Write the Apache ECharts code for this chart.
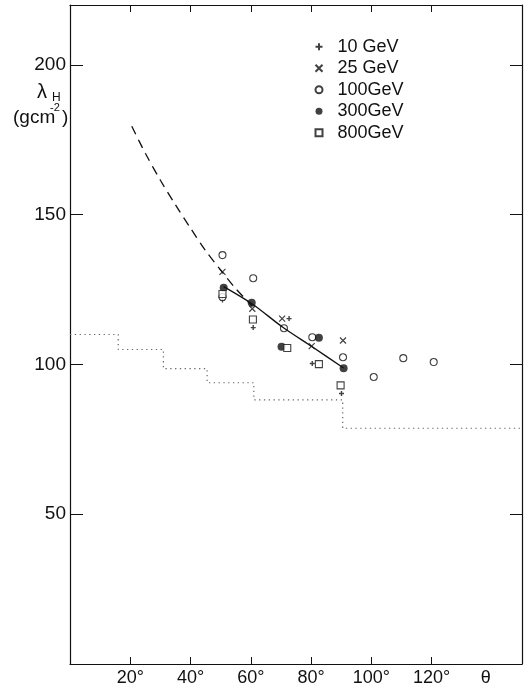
<!DOCTYPE html>
<html><head><meta charset="utf-8">
<script src="https://cdn.jsdelivr.net/npm/echarts@6/dist/echarts.min.js"></script>
<style>html,body{margin:0;padding:0;background:#fff}#c{width:529px;height:689px}</style>
</head><body><div id="c"></div>
<script>
// ---- data ----
const theta10 = [50.6, 60.8, 72.7, 80.4, 90.1];
const lam10   = [121.5, 112.3, 115.3, 100.3, 90.3];
const theta25 = [50.6, 60.5, 70.4, 80.2, 90.6];
const lam25   = [130.9, 118.6, 115.3, 106.1, 108.0];
const theta100 = [50.6, 50.6, 60.8, 71.0, 80.4, 90.6, 100.8, 110.6, 120.7];
const lam100   = [136.5, 122.5, 128.8, 112.1, 109.1, 102.4, 95.8, 102.1, 100.8];
const theta300 = [51.0, 60.3, 70.2, 82.6, 90.8];
const lam300   = [125.6, 120.6, 105.9, 108.9, 98.7];
const theta800 = [50.6, 60.7, 72.1, 82.6, 89.8];
const lam800   = [123.5, 115.0, 105.5, 100.1, 93.0];
// solid fit line
const fitTheta = [51, 60.5, 70.5, 80.5, 90.8];
const fitLam   = [126.0, 120.2, 112.5, 105.8, 98.8];
// dashed extrapolation
const dashTheta = [20.5, 25, 30, 35, 40, 45, 50, 55, 60.5];
const dashLam   = [179.5, 170.5, 161.5, 153.3, 145.5, 138.0, 131.5, 125.3, 119.5];
// dotted step curve: segments [theta_from, theta_to] at lambda
const stepStart = [0, 16, 31, 45.5, 61, 90.5];
const stepEnd   = [16, 31, 45.5, 61, 90.5, 150];
const stepLam   = [110.0, 105.0, 98.6, 93.9, 88.2, 78.7];
// axes
const xTicks = [20, 40, 60, 80, 100, 120];
const yTicks = [50, 100, 150, 200];
const seriesNames = ['10 GeV', '25 GeV', '100GeV', '300GeV', '800GeV'];

const zip = (a, b) => a.map((v, i) => [v, b[i]]);
const stepData = [];
stepStart.forEach((s, i) => { stepData.push([s, stepLam[i]]); stepData.push([stepEnd[i], stepLam[i]]); });

const FONT = 'Liberation Sans';
const INK = '#111';
const plusPath = 'path://M5,0 L5,10 M0,5 L10,5';
const crossPath = 'path://M0,0 L10,10 M10,0 L0,10';

const chart = echarts.init(document.getElementById('c'));
chart.setOption({
  animation: false,
  backgroundColor: '#fff',
  grid: { left: 70, right: 7, top: 5, bottom: 25 },
  xAxis: [{
    type: 'value', min: 0, max: 150, position: 'bottom',
    axisLine: { onZero: false, lineStyle: { color: INK, width: 1.2 } },
    axisTick: { inside: true, length: 7, customValues: xTicks, lineStyle: { color: INK, width: 1 } },
    axisLabel: { customValues: xTicks.concat([138]), color: INK, fontFamily: FONT, fontSize: 18, margin: 5,
      formatter: v => v === 138 ? 'θ' : v + '°' },
    splitLine: { show: false }
  }, {
    type: 'value', min: 0, max: 150, position: 'top',
    axisLine: { onZero: false, lineStyle: { color: INK, width: 1.2 } },
    axisTick: { inside: true, length: 7, customValues: xTicks, lineStyle: { color: INK, width: 1 } },
    axisLabel: { show: false }, splitLine: { show: false }
  }],
  yAxis: [{
    type: 'value', min: 0, max: 220, position: 'left',
    axisLine: { show: true, onZero: false, lineStyle: { color: INK, width: 1.2 } },
    axisTick: { show: true, inside: true, length: 13, customValues: yTicks, lineStyle: { color: INK, width: 1 } },
    axisLabel: { customValues: yTicks, color: INK, fontFamily: FONT, fontSize: 19, margin: 4 },
    splitLine: { show: false }
  }, {
    type: 'value', min: 0, max: 220, position: 'right',
    axisLine: { show: true, onZero: false, lineStyle: { color: INK, width: 1.2 } },
    axisTick: { show: true, inside: true, length: 12, customValues: yTicks, lineStyle: { color: INK, width: 1 } },
    axisLabel: { show: false }, splitLine: { show: false }
  }],
  legend: {
    orient: 'vertical', left: 308, top: 32, itemWidth: 7, itemHeight: 7, itemGap: 2,
    data: seriesNames,
    textStyle: { color: INK, fontFamily: FONT, fontSize: 18, lineHeight: 19.5, padding: [0, 0, 0, 10] }
  },
  series: [
    { type: 'line', data: stepData, showSymbol: false, symbol: 'none',
      lineStyle: { color: '#666', width: 1.2, type: [1.3, 3.5] }, silent: true },
    { type: 'line', data: zip(dashTheta, dashLam), symbol: 'none', smooth: 0.3,
      lineStyle: { color: INK, width: 1.3, type: [9, 6] }, silent: true },
    { type: 'line', data: zip(fitTheta, fitLam), symbol: 'none', smooth: 0.3,
      lineStyle: { color: INK, width: 1.3 }, silent: true },
    { name: '10 GeV', type: 'scatter', data: zip(theta10, lam10), symbol: plusPath, symbolSize: 5,
      itemStyle: { color: 'none', borderColor: INK, borderWidth: 1.4 } },
    { name: '25 GeV', type: 'scatter', data: zip(theta25, lam25), symbol: crossPath, symbolSize: 6,
      itemStyle: { color: 'none', borderColor: INK, borderWidth: 1.2 } },
    { name: '100GeV', type: 'scatter', data: zip(theta100, lam100), symbol: 'circle', symbolSize: 7,
      itemStyle: { color: '#fff', borderColor: INK, borderWidth: 1.1 } },
    { name: '300GeV', type: 'scatter', data: zip(theta300, lam300), symbol: 'circle', symbolSize: 8,
      itemStyle: { color: INK, borderColor: INK, borderWidth: 0 } },
    { name: '800GeV', type: 'scatter', data: zip(theta800, lam800), symbol: 'rect', symbolSize: 7,
      itemStyle: { color: '#fff', borderColor: INK, borderWidth: 1.1 } }
  ],
  graphic: [
    { type: 'text', left: 37, top: 82, style: { text: 'λ', fill: INK, font: '20px ' + FONT } },
    { type: 'text', left: 52, top: 92, style: { text: 'H', fill: INK, font: '12px ' + FONT } },
    { type: 'text', left: 13, top: 108, style: { text: '(gcm', fill: INK, font: '19px ' + FONT } },
    { type: 'text', left: 50, top: 102, style: { text: '-2', fill: INK, font: '11px ' + FONT } },
    { type: 'text', left: 62, top: 108, style: { text: ')', fill: INK, font: '19px ' + FONT } }
  ]
});
</script></body></html>
